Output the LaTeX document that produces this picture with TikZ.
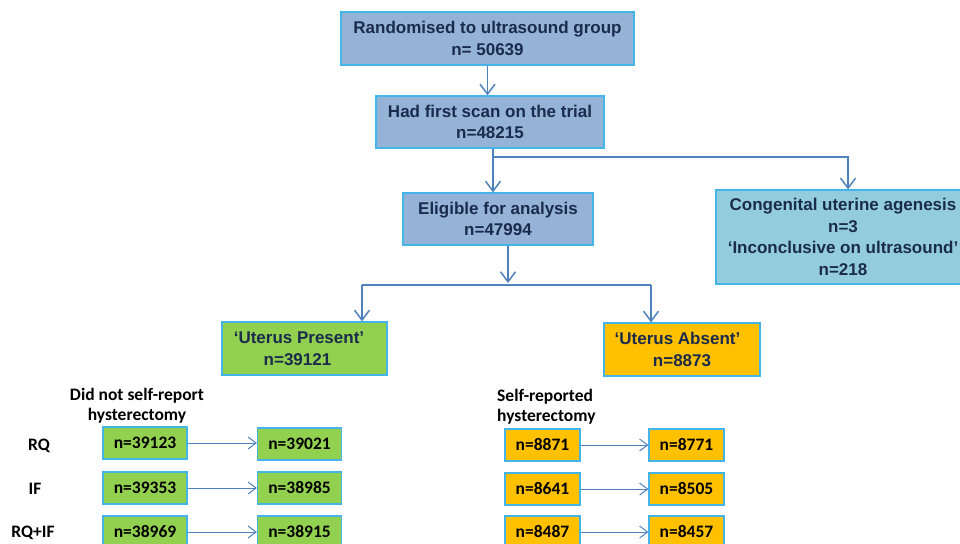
\documentclass[tikz,border=0pt]{standalone}
\usepackage{fontspec}
\setmainfont{Liberation Sans}
\newfontfamily\calibri{Carlito}
\usetikzlibrary{arrows.meta}
\definecolor{boxblue}{HTML}{95B3D7}
\definecolor{boxcyan}{HTML}{93CDDD}
\definecolor{boxgreen}{HTML}{92D050}
\definecolor{boxorange}{HTML}{FFC000}
\definecolor{bordercol}{HTML}{45B4E8}
\definecolor{linecol}{HTML}{4F81BD}
\definecolor{navytext}{HTML}{1B2B4B}
\begin{document}
\begin{tikzpicture}[x=1pt,y=-1pt,
  box/.style={draw=bordercol, line width=1.2pt, align=center, inner sep=0pt,
    font=\bfseries\fontsize{17}{21.5}\selectfont, text=navytext},
  small/.style={draw=bordercol, line width=1.2pt, inner sep=0pt,
    font=\calibri\bfseries\fontsize{17.5}{20}\selectfont, text=black,
    minimum height=32pt},
  gbox/.style={small, fill=boxgreen, minimum width=84pt},
  obox/.style={small, fill=boxorange, minimum width=75pt},
  lab/.style={font=\calibri\bfseries\fontsize{17.5}{20}\selectfont, text=black, inner sep=0pt},
  conn/.style={draw=linecol, line width=1.8pt, -{Straight Barb[length=10pt,width=15pt,line width=1.5pt]}},
  plain/.style={draw=linecol, line width=1.8pt},
  thinarrow/.style={draw=linecol, line width=1pt, -{Straight Barb[length=8pt,width=12pt,line width=1pt]}}
]
\useasboundingbox (0,0) rectangle (960,543);
\clip (0,0) rectangle (960,543);

% main boxes
\node[box, fill=boxblue, minimum width=293pt, minimum height=53pt] (b1) at (487.5,38.5) {Randomised to ultrasound group\\n= 50639};
\node[box, fill=boxblue, minimum width=228pt, minimum height=52pt] (b2) at (490,122) {Had first scan on the trial\\n=48215};
\node[box, fill=boxblue, minimum width=190pt, minimum height=52pt] (b3) at (498,219) {Eligible for analysis\\n=47994};
\node[box, fill=boxcyan, minimum width=254pt, minimum height=94pt] (b4) at (843,237) {Congenital uterine agenesis\\n=3\\‘Inconclusive on ultrasound’\\n=218};
\node[box, fill=boxgreen, minimum width=165pt, minimum height=53pt] (b5) at (304.5,348.5) {‘Uterus Present’\hspace*{11pt}\\n=39121\hspace*{14pt}};
\node[box, fill=boxorange, minimum width=156pt, minimum height=53pt] (b6) at (682,349.5) {‘Uterus Absent’\hspace*{9pt}\\n=8873};

% connectors top
\draw[conn] (b1.south) -- (b1.south |- b2.north);
\coordinate (j1) at (493,157);
\draw[plain] (b2.south -| j1) -- (j1);
\draw[conn] (j1) -- (j1 |- b3.north);
\draw[conn] (j1) -| ([xshift=5pt]b4.north);
\coordinate (j2) at (508,283);
\draw[conn] (b3.south -| j2) -- (j2);
\coordinate (jl) at (362,285);
\coordinate (jr) at (651,285);
\draw[plain] (jl) -- (jr);
\draw[conn] (jl) -- (jl |- b5.north);
\draw[conn] (jr) -- (jr |- b6.north);

% column headings
\node[lab, align=center] (h1) at (137,406) {Did not self-report\\hysterectomy};
\node[lab, align=left, anchor=west] (h2) at (497,407) {Self-reported\\hysterectomy};

% row labels
\node[lab] (r1) at (39,446) {RQ};
\node[lab] (r2) at (35,489) {IF};
\node[lab] (r3) at (33,533) {RQ+IF};

% green boxes
\node[gbox] (g1l) at (145,443) {n=39123};
\node[gbox] (g1r) at (299.5,444) {n=39021};
\node[gbox] (g2l) at (145,488) {n=39353};
\node[gbox] (g2r) at (299.5,488) {n=38985};
\node[gbox] (g3l) at (145,532) {n=38969};
\node[gbox] (g3r) at (299.5,532) {n=38915};

% orange boxes
\node[obox] (o1l) at (542.5,445) {n=8871};
\node[obox] (o1r) at (686.5,445) {n=8771};
\node[obox] (o2l) at (542.5,489) {n=8641};
\node[obox] (o2r) at (686.5,489) {n=8505};
\node[obox] (o3l) at (542.5,532) {n=8487};
\node[obox] (o3r) at (686.5,532) {n=8457};

% row arrows
\draw[thinarrow] (g1l.east) -- (g1l.east -| g1r.west);
\draw[thinarrow] (g2l.east) -- (g2l.east -| g2r.west);
\draw[thinarrow] (g3l.east) -- (g3l.east -| g3r.west);
\draw[thinarrow] (o1l.east) -- (o1l.east -| o1r.west);
\draw[thinarrow] (o2l.east) -- (o2l.east -| o2r.west);
\draw[thinarrow] (o3l.east) -- (o3l.east -| o3r.west);
\end{tikzpicture}
\end{document}
